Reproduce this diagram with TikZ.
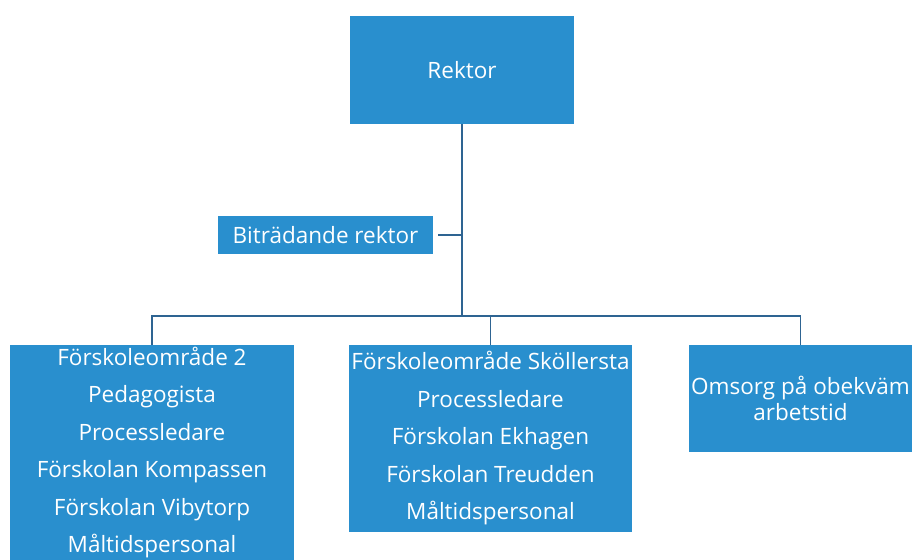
\documentclass[tikz,border=0pt]{standalone}
\usepackage{fontspec}
\setmainfont{Open Sans}
\usepackage{tikz}
\usepackage{xcolor}

\definecolor{boxblue}{RGB}{41,143,206}
\definecolor{linkblue}{RGB}{46,100,146}

\begin{document}
\begin{tikzpicture}[x=1pt, y=1pt,
    orgbox/.style={fill=boxblue, text=white, align=center, inner sep=0pt,
        font=\fontsize{22.5}{37.5}\selectfont},
    link/.style={draw=linkblue, line width=1.8pt}]
    % Page frame
    \clip (0,0) rectangle (912,-559);

    % Boxes
    \node[orgbox, minimum width=224, minimum height=108] (rektor) at (462,-70) {Rektor};
    \node[orgbox, minimum width=215, minimum height=38] (bitr) at (325.5,-235) {Biträdande rektor};
    \node[orgbox, minimum width=284, minimum height=215] (omr2) at (152,-452.5)
        {Förskoleområde 2\\Pedagogista\\Processledare\\Förskolan Kompassen\\Förskolan Vibytorp\\Måltidspersonal};
    \node[orgbox, minimum width=283, minimum height=187] (skoll) at (490.5,-438.5)
        {Förskoleområde Sköllersta\\Processledare\\Förskolan Ekhagen\\Förskolan Treudden\\Måltidspersonal};
    \node[orgbox, minimum width=223, minimum height=107, font=\fontsize{22.5}{26.5}\selectfont] (omsorg) at (800.5,-398.5)
        {Omsorg på obekväm\\arbetstid};

    % Connectors
    \coordinate (hub) at (462,-316);
    \draw[link] (rektor.south) -- (hub);
    \draw[link] ([xshift=5pt]bitr.east) -- (bitr.east -| hub);
    \draw[link] (omr2.north) |- (hub) -| (omsorg.north);
    \draw[link] (skoll.north) -- (skoll.north |- hub);
\end{tikzpicture}
\end{document}
